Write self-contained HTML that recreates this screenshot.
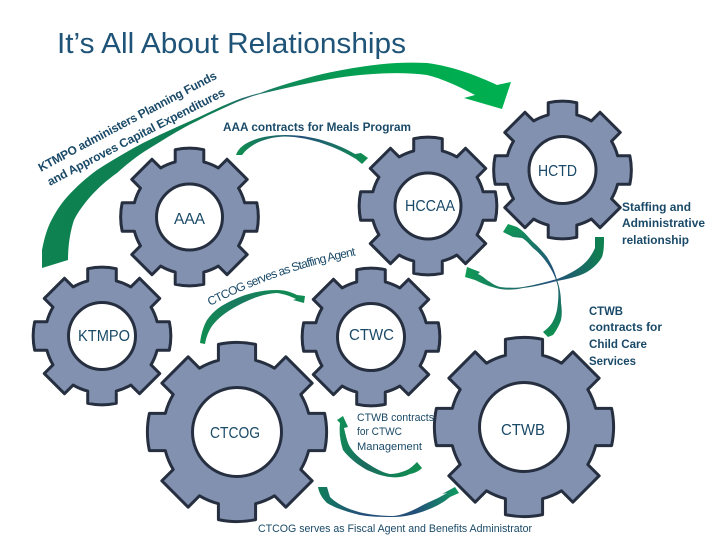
<!DOCTYPE html>
<html>
<head>
<meta charset="utf-8">
<style>
html,body{margin:0;padding:0;background:#fff;width:720px;height:540px;overflow:hidden}
svg{display:block}
text{font-family:"Liberation Sans",sans-serif;fill:#1a4a68}
.b{font-weight:bold;font-size:12px}
.n{font-size:11px}
.g{font-size:16px}
.gear{fill:#8391b0;stroke:#262f40;stroke-linejoin:round}
.hole{fill:#fff;stroke:#262f40}
</style>
</head>
<body>
<svg width="720" height="540" viewBox="0 0 720 540" xmlns="http://www.w3.org/2000/svg">
<defs>
<path id="gp" vector-effect="non-scaling-stroke" d="M81 -21L99 -21A100 100 0 0 1 99 21L81 21A83.7 83.7 0 0 1 72.1 42.4L84.9 55.2L55.2 84.9L42.4 72.1A83.7 83.7 0 0 1 21 81L21 99A100 100 0 0 1 -21 99L-21 81A83.7 83.7 0 0 1 -42.4 72.1L-55.2 84.9L-84.9 55.2L-72.1 42.4A83.7 83.7 0 0 1 -81 21L-99 21A100 100 0 0 1 -99 -21L-81 -21A83.7 83.7 0 0 1 -72.1 -42.4L-84.9 -55.2L-55.2 -84.9L-42.4 -72.1A83.7 83.7 0 0 1 -21 -81L-21 -99A100 100 0 0 1 21 -99L21 -81A83.7 83.7 0 0 1 42.4 -72.1L55.2 -84.9L84.9 -55.2L72.1 -42.4A83.7 83.7 0 0 1 81 -21Z"/>
<linearGradient id="big" gradientUnits="userSpaceOnUse" x1="43" y1="0" x2="510" y2="0">
<stop offset="0" stop-color="#0e8250"/><stop offset=".38" stop-color="#0f7d55"/><stop offset=".44" stop-color="#2a6a70"/><stop offset=".52" stop-color="#0f8a58"/><stop offset=".75" stop-color="#00a950"/><stop offset="1" stop-color="#00b050"/>
</linearGradient>
<linearGradient id="h1" x1="0" y1="0" x2="1" y2="0">
<stop offset="0" stop-color="#0f8f50"/><stop offset=".5" stop-color="#24507a"/><stop offset="1" stop-color="#0f9050"/>
</linearGradient>
<linearGradient id="h2" x1="0" y1="1" x2="1" y2="0">
<stop offset="0" stop-color="#0f8f50"/><stop offset=".6" stop-color="#1a7a60"/><stop offset="1" stop-color="#0f9050"/>
</linearGradient>
<linearGradient id="c1" gradientUnits="userSpaceOnUse" x1="600" y1="240" x2="465" y2="272">
<stop offset="0" stop-color="#0f8050"/><stop offset=".4" stop-color="#24507a"/><stop offset=".65" stop-color="#1f6a6a"/><stop offset="1" stop-color="#0f9a55"/>
</linearGradient>
<linearGradient id="d1" gradientUnits="userSpaceOnUse" x1="545" y1="337" x2="505" y2="225">
<stop offset="0" stop-color="#0f8f50"/><stop offset=".5" stop-color="#24507a"/><stop offset="1" stop-color="#0f9a55"/>
</linearGradient>
<linearGradient id="e1" gradientUnits="userSpaceOnUse" x1="340" y1="418" x2="420" y2="470">
<stop offset="0" stop-color="#0f9055"/><stop offset=".5" stop-color="#1a6a60"/><stop offset="1" stop-color="#0f8f50"/>
</linearGradient>
<linearGradient id="f1" gradientUnits="userSpaceOnUse" x1="318" y1="490" x2="458" y2="490">
<stop offset="0" stop-color="#0f7f5a"/><stop offset=".3" stop-color="#24507a"/><stop offset=".7" stop-color="#24507a"/><stop offset="1" stop-color="#0f9a60"/>
</linearGradient>
<path id="t1" d="M41 172Q130 124 222 76"/>
<path id="t2" d="M50 186Q137 140 228 94"/>
<path id="t3" d="M210 306Q280 270 358 255"/>
</defs>

<text x="57" y="53" font-size="29" textLength="349" lengthAdjust="spacingAndGlyphs" style="fill:#1f5478">It’s All About Relationships</text>

<!-- big arrow -->
<path fill="url(#big)" d="M42 268L42 250C44 240 46 232 50 223C55 213 60 205 67 197C76 187 86 178 97 170C112 160 128 151 143 143C161 134 179 126 197 118C210 112 224 105 237 100C245 97 252 95 260 93C273 88 286 84 300 80C320 74 340 70 360 67C385 63 405 62 427 63C452 66 478 76 497 85L511 82L502 109L464 98L475 95C458 86 443 79 427 75C405 72 382 73 360 75C338 77 320 81 300 85C286 88 273 91 260 94C252 96 245 99 237 102C224 108 210 114 197 121C180 129 165 139 150 148C138 155 127 164 117 173C107 180 98 188 90 197C84 204 78 212 74 220C70 232 68 246 68 260Z"/>

<!-- gears -->
<g class="gear" stroke-width="3">
<use href="#gp" transform="translate(189.5 217) scale(.68)"/>
<use href="#gp" transform="translate(428 206) scale(.68)"/>
<use href="#gp" transform="translate(562.5 170) scale(.68)"/>
<use href="#gp" transform="translate(102 336) scale(.68)"/>
<use href="#gp" transform="translate(371 337) scale(.68)"/>
<use href="#gp" transform="translate(237 432) scale(.885)"/>
<use href="#gp" transform="translate(524 427) scale(.885)"/>
</g>
<g class="hole" stroke-width="3">
<circle cx="189.5" cy="217" r="33"/>
<circle cx="428" cy="206" r="33"/>
<circle cx="562.5" cy="170" r="33.5"/>
<circle cx="102" cy="336" r="33.5"/>
<circle cx="371" cy="337" r="33.5"/>
<circle cx="237" cy="432" r="44.5"/>
<circle cx="524" cy="427" r="44.5"/>
</g>

<!-- small arrows -->
<path fill="url(#h1)" d="M236 155C240 142 262 135 285 135C312 135 336 143 355 154L361 153L368 158L362 164L356 159C338 148 312 137 285 136.5C266 137 250 144 242 155Z"/>
<path fill="url(#h2)" d="M200 343C201 335 203 327 207 320C214 310 222 305 233 300C245 294 260 290 277 290C285 290 291 292 297 295L305 296L304 303L293 300L296 299C290 296 284 294 277 293C262 294 250 299 237 306C226 312 218 318 212 326C208 332 206 338 205 344Z"/>
<path fill="url(#c1)" d="M595 237L604 237C604 245 604 251 602 257C598 264 593 268 587 272C578 277 567 279 557 281C545 284 534 287 523 288C515 290 507 290 500 289C490 287 481 283 475 280L465 277L467 267L480 272L478 274C483 276 486 280 490 282C494 285 497 286 500 287C508 288 516 288 523 287C535 285 546 282 557 279C565 276 573 272 580 267C587 262 592 255 595 248Z"/>
<path fill="url(#d1)" d="M503 232L508 224L517 227C525 232 528 237 533 242C539 247 543 252 547 257C552 265 555 272 557 280C560 288 561 296 561 303C562 310 562 315 561 320C559 326 556 331 553 335L548 337L543 332C547 329 550 326 552 323C555 318 556 314 557 310C558 303 559 295 558 287C556 278 552 270 547 263C543 257 538 252 533 248C529 244 526 240 522 238L513 237Z"/>
<path fill="url(#e1)" d="M343 416L348 427L344 428C346 436 347 442 350 447C355 455 362 460 370 465C378 470 384 473 390 474C397 474 402 472 407 470C411 468 414 465 417 462L422 468C419 471 415 473 410 474C404 477 397 478 390 477C381 476 374 473 367 470C358 465 349 458 343 450C340 441 339 432 340 423L337 420Z"/>
<path fill="url(#f1)" d="M318 487L327 487L330 497C338 505 350 510 363 513C373 515 383 516 393 516C404 515 414 510 423 505C431 501 439 498 447 493L442 494L455 487L459 493L450 497C443 503 435 507 427 510C417 514 405 517 393 517C381 517 371 517 360 515C348 512 337 509 327 503C322 498 319 493 318 487Z"/>

<!-- curved labels -->
<text class="b"><textPath href="#t1" textLength="200" lengthAdjust="spacing">KTMPO administers Planning Funds</textPath></text>
<text class="b"><textPath href="#t2" textLength="198" lengthAdjust="spacing">and Approves Capital Expenditures</textPath></text>
<text class="n" style="font-size:12px"><textPath href="#t3" textLength="155" lengthAdjust="spacing">CTCOG serves as Staffing Agent</textPath></text>

<!-- straight labels -->
<text class="b" x="223" y="131" textLength="188" lengthAdjust="spacingAndGlyphs">AAA contracts for Meals Program</text>
<text class="b" x="622" y="211" textLength="69" lengthAdjust="spacingAndGlyphs">Staffing and</text>
<text class="b" x="622" y="227" textLength="83" lengthAdjust="spacingAndGlyphs">Administrative</text>
<text class="b" x="622" y="244" textLength="67" lengthAdjust="spacingAndGlyphs">relationship</text>
<text class="b" x="589" y="315" textLength="34" lengthAdjust="spacingAndGlyphs">CTWB</text>
<text class="b" x="589" y="331" textLength="73" lengthAdjust="spacingAndGlyphs">contracts for</text>
<text class="b" x="589" y="348" textLength="58" lengthAdjust="spacingAndGlyphs">Child Care</text>
<text class="b" x="589" y="365" textLength="47" lengthAdjust="spacingAndGlyphs">Services</text>
<text class="n" x="357" y="421" textLength="77" lengthAdjust="spacingAndGlyphs">CTWB contracts</text>
<text class="n" x="357" y="435" textLength="45" lengthAdjust="spacingAndGlyphs">for CTWC</text>
<text class="n" x="357" y="450" textLength="65" lengthAdjust="spacingAndGlyphs">Management</text>
<text class="n" x="258" y="532" textLength="274" lengthAdjust="spacingAndGlyphs">CTCOG serves as Fiscal Agent and Benefits Administrator</text>

<!-- gear labels -->
<text class="g" x="174" y="224" textLength="31" lengthAdjust="spacingAndGlyphs">AAA</text>
<text class="g" x="405" y="211" textLength="50" lengthAdjust="spacingAndGlyphs">HCCAA</text>
<text class="g" x="538" y="176" textLength="39" lengthAdjust="spacingAndGlyphs">HCTD</text>
<text class="g" x="78" y="341" textLength="52" lengthAdjust="spacingAndGlyphs">KTMPO</text>
<text class="g" x="349" y="340" textLength="45" lengthAdjust="spacingAndGlyphs">CTWC</text>
<text class="g" x="210" y="438" textLength="50" lengthAdjust="spacingAndGlyphs">CTCOG</text>
<text class="g" x="501" y="435" textLength="44" lengthAdjust="spacingAndGlyphs">CTWB</text>
</svg>
</body>
</html>
